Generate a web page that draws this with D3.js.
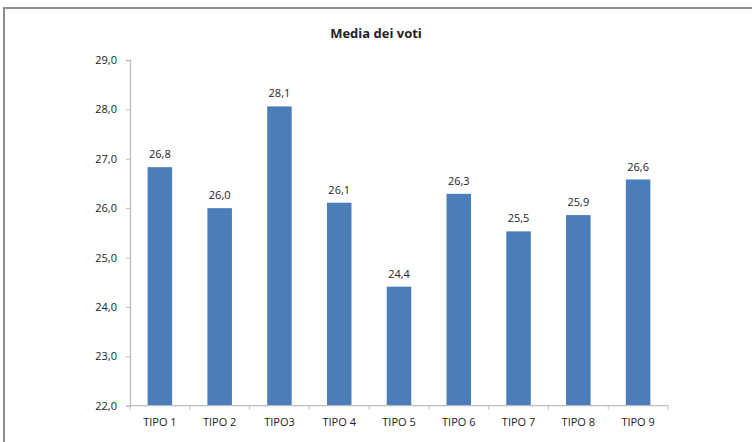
<!DOCTYPE html>
<meta charset="utf-8">
<head>
  <script src="https://cdn.jsdelivr.net/npm/d3@7"></script>
  <style>
    body { margin: 0; background: #fff; }
    text { font-family: "Open Sans", "Noto Sans", sans-serif; fill: #222; }
  </style>
</head>
<body>
<script type="text/javascript">

// dati
var categorie = ["TIPO 1", "TIPO 2", "TIPO3", "TIPO 4", "TIPO 5", "TIPO 6", "TIPO 7", "TIPO 8", "TIPO 9"];
var medie = [26.83, 26.0, 28.06, 26.11, 24.41, 26.29, 25.53, 25.86, 26.58];
var tickY = [22, 23, 24, 25, 26, 27, 28, 29];
var titolo = "Media dei voti";

var w = 752;
var h = 442;

var svg = d3.select("body").append("svg")
    .attr("width", w)
    .attr("height", h);

// cornice grigia
svg.append("rect")
    .attr("x", 4).attr("y", 8)
    .attr("width", w + 10).attr("height", h + 10)
    .attr("fill", "none")
    .attr("stroke", "#8c8c8c")
    .attr("stroke-width", 2);

var it = d3.formatLocale({decimal: ",", thousands: ".", grouping: [3], currency: ["€", ""]});
var fmt = it.format(".1f");

var x = d3.scaleBand()
    .domain(categorie)
    .range([130, 668])
    .paddingInner(0.59)
    .paddingOuter(0.295);

var y = d3.scaleLinear()
    .domain([22, 29])
    .range([405.7, 60]);

svg.append("text")
    .attr("x", 376)
    .attr("y", 38)
    .attr("text-anchor", "middle")
    .style("font-size", "13px")
    .style("font-weight", "bold")
    .text(titolo);

// asse y
var ay = svg.append("g")
    .attr("transform", "translate(130,0)")
    .call(d3.axisLeft(y).tickValues(tickY).tickSize(4).tickPadding(9).tickFormat(fmt));
ay.select(".domain").attr("stroke", "#bdbdbd").attr("stroke-width", 1.3);
ay.selectAll(".tick line").attr("stroke", "#bdbdbd");
ay.selectAll(".tick text").style("font-size", "11px").style("font-family", "'Open Sans', sans-serif").attr("fill", "#222");

// barre
svg.selectAll("rect.bar")
    .data(medie)
    .enter()
    .append("rect")
    .attr("class", "bar")
    .attr("x", function(d, i) { return x(categorie[i]); })
    .attr("width", x.bandwidth())
    .attr("y", function(d) { return y(d); })
    .attr("height", function(d) { return y(22) - y(d); })
    .attr("fill", "#4a7dba");

// etichette valori
svg.selectAll("text.val")
    .data(medie)
    .enter()
    .append("text")
    .attr("class", "val")
    .attr("x", function(d, i) { return x(categorie[i]) + x.bandwidth() / 2; })
    .attr("y", function(d) { return y(d) - 9; })
    .attr("text-anchor", "middle")
    .style("font-size", "11px")
    .text(function(d) { return fmt(d); });

// asse x
var ax = svg.append("g")
    .attr("transform", "translate(0," + y(22) + ")");
ax.append("line")
    .attr("x1", 130).attr("x2", 668)
    .attr("stroke", "#bdbdbd").attr("stroke-width", 1.3);
var bordi = categorie.map(function(c) { return x(c) - x.step() * x.paddingInner() / 2; }).concat([668]);
ax.selectAll("line.tk")
    .data(bordi)
    .enter()
    .append("line")
    .attr("class", "tk")
    .attr("x1", function(d) { return d; }).attr("x2", function(d) { return d; })
    .attr("y1", 0).attr("y2", 4)
    .attr("stroke", "#bdbdbd");
ax.selectAll("text")
    .data(categorie)
    .enter()
    .append("text")
    .attr("x", function(d) { return x(d) + x.bandwidth() / 2; })
    .attr("y", 20)
    .attr("text-anchor", "middle")
    .style("font-size", "11px")
    .text(function(d) { return d; });

</script>
</body>
